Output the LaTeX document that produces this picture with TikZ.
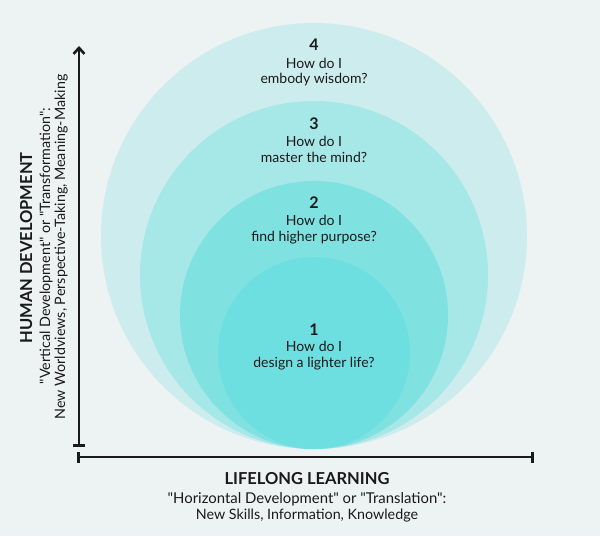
\documentclass[tikz,border=0pt]{standalone}
\usepackage{fontspec}
\setmainfont{Lato}[Ligatures=TeXOff]
\usetikzlibrary{arrows.meta}
\definecolor{bg}{HTML}{EDF2F2}
\definecolor{cfour}{HTML}{CDECEE}
\definecolor{cthree}{HTML}{A6E7E7}
\definecolor{ctwo}{HTML}{80E1E1}
\definecolor{cone}{HTML}{6EDFE0}
\definecolor{ink}{HTML}{1A1A1A}
\tikzset{
  num/.style={anchor=base, inner sep=0pt, font=\fontsize{16}{16}\selectfont\bfseries, text=ink},
  qtext/.style={anchor=base, inner sep=0pt, font=\fontsize{14}{14}\selectfont, text=ink},
  axtitle/.style={anchor=base, inner sep=0pt, font=\fontsize{16.5}{16.5}\selectfont\bfseries, text=ink},
  axsub/.style={anchor=base, inner sep=0pt, font=\fontsize{14.3}{14.3}\selectfont, text=ink},
  axsubw/.style={axsub, font=\fontsize{14.9}{14.9}\selectfont},
  axline/.style={line width=2.6pt, draw=ink},
}
\begin{document}
\begin{tikzpicture}[x=1pt,y=-1pt]
\fill[bg] (0,0) rectangle (600,536);
\useasboundingbox (0,0) rectangle (600,536);
% circles, all tangent at bottom (y=449), centre x=314
\fill[cfour] (314,236) circle[radius=213];
\fill[cthree] (314,275) circle[radius=174];
\fill[ctwo] (314,315) circle[radius=134];
\fill[cone] (314,353) circle[radius=96];
% labels
\node[num]   (n4) at (314,50) {4};
\node[qtext] (q4a) at (314,68) {How do I};
\node[qtext] (q4b) at (314,83) {embody wisdom?};
\node[num]   (n3) at (314,129) {3};
\node[qtext] (q3a) at (314,146) {How do I};
\node[qtext] (q3b) at (314,162) {master the mind?};
\node[num]   (n2) at (314,208) {2};
\node[qtext] (q2a) at (314,225) {How do I};
\node[qtext] (q2b) at (314,241) {find higher purpose?};
\node[num]   (n1) at (314,335) {1};
\node[qtext] (q1a) at (314,351) {How do I};
\node[qtext] (q1b) at (314,367) {design a lighter life?};
% axes
\coordinate (vbot) at (79,447);
\coordinate (vtop) at (79,46);
\coordinate (hl) at (77,457);
\coordinate (hr) at (534,457);
\draw[axline, {Bar[width=12pt,line width=2.6pt]}-{Straight Barb[length=6pt,width=11pt,line width=2.6pt]}] (vbot) -- (vtop);
\draw[axline, {Bar[width=11pt,line width=2.6pt]}-{Bar[width=11pt,line width=2.6pt]}] (hl) -- (hr);
% horizontal axis labels
\node[axtitle] (xt) at (307,484) {LIFELONG LEARNING};
\node[axsubw]  (xs1) at (307,503) {"Horizontal Development" or "Translation":};
\node[axsub]   (xs2) at (307,519) {New Skills, Information, Knowledge};
% vertical axis labels
\node[axtitle, rotate=90] (yt) at (32,248) {HUMAN DEVELOPMENT};
\node[axsub, rotate=90]   (ys1) at (50,246) {"Vertical Development" or "Transformation":};
\node[axsub, rotate=90]   (ys2) at (65,247) {New Worldviews, Perspective-Taking, Meaning-Making};
\end{tikzpicture}
\end{document}
